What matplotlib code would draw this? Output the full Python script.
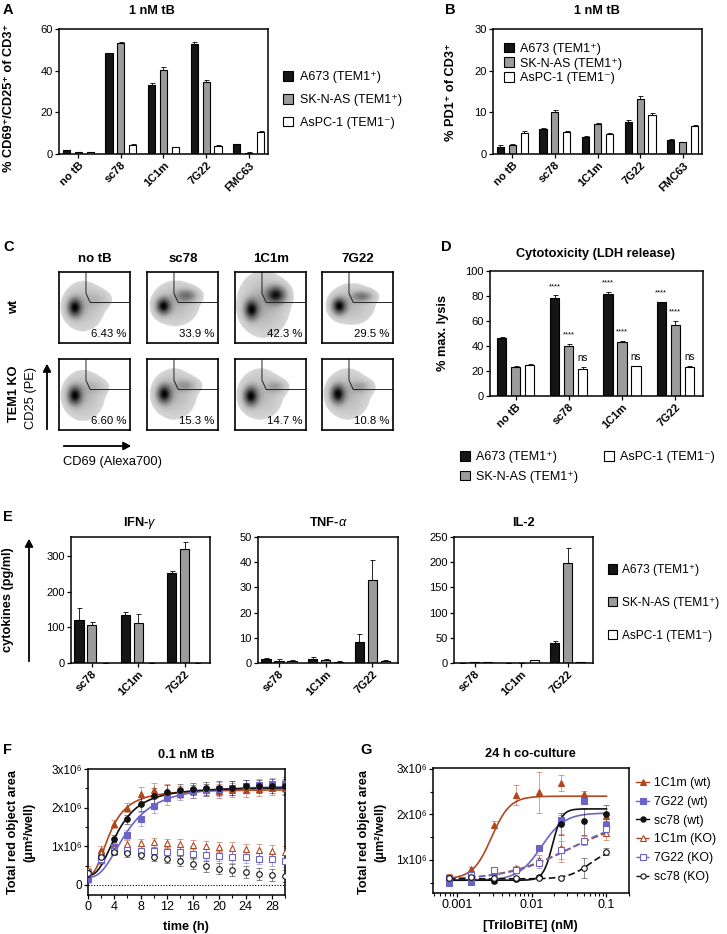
import numpy as np
import matplotlib
matplotlib.use('Agg')
import matplotlib.pyplot as plt
from matplotlib.patches import Patch, FancyArrowPatch
from matplotlib.lines import Line2D

plt.rcParams['font.family'] = ['Liberation Sans', 'DejaVu Sans']
plt.rcParams['mathtext.fontset'] = 'custom'
plt.rcParams['mathtext.rm'] = 'Liberation Sans'
plt.rcParams['mathtext.bf'] = 'Liberation Sans:bold'
plt.rcParams['mathtext.it'] = 'Liberation Sans:italic'
plt.rcParams['font.size'] = 8

# ---------------- data ----------------
lines3 = ['A673 (TEM1\u207a)', 'SK-N-AS (TEM1\u207a)', 'AsPC-1 (TEM1\u207b)']
bar_colors = ['#151515', '#9b9b9b', '#ffffff']

ab_groups = ['no tB', 'sc78', '1C1m', '7G22', 'FMC63']
a_vals = [[1.8, 48.3, 33.3, 53.0, 4.7],
          [1.0, 53.5, 40.5, 34.8, 0.7],
          [1.0, 4.3, 3.2, 4.0, 10.8]]
a_errs = [[0.3, 0.3, 0.7, 0.6, 0.2],
          [0.1, 0.3, 1.2, 0.8, 0.1],
          [0.2, 0.3, 0.2, 0.5, 0.3]]
b_vals = [[1.8, 6.1, 4.1, 7.8, 3.4],
          [2.2, 10.1, 7.3, 13.2, 2.9],
          [5.0, 5.4, 4.9, 9.3, 6.7]]
b_errs = [[0.3, 0.2, 0.2, 0.4, 0.3],
          [0.2, 0.5, 0.2, 0.7, 0.1],
          [0.5, 0.1, 0.1, 0.5, 0.2]]

c_cols = ['no tB', 'sc78', '1C1m', '7G22']
c_pct = [['6.43 %', '33.9 %', '42.3 %', '29.5 %'],
         ['6.60 %', '15.3 %', '14.7 %', '10.8 %']]
# populations (cx, cy, sx, sy, weight) for each density plot
c_pops = [
    [[(0.22, 0.5, 0.065, 0.085, 1.0), (0.34, 0.52, 0.17, 0.2, 0.2), (0.55, 0.62, 0.12, 0.08, 0.12)],
     [(0.23, 0.52, 0.065, 0.075, 1.0), (0.4, 0.56, 0.19, 0.18, 0.2), (0.56, 0.67, 0.1, 0.06, 0.45)],
     [(0.23, 0.47, 0.065, 0.09, 0.85), (0.4, 0.55, 0.2, 0.25, 0.22), (0.58, 0.68, 0.09, 0.08, 0.8)],
     [(0.24, 0.52, 0.065, 0.075, 1.0), (0.42, 0.55, 0.19, 0.17, 0.18), (0.57, 0.66, 0.1, 0.05, 0.4)]],
    [[(0.22, 0.48, 0.065, 0.085, 1.0), (0.34, 0.48, 0.17, 0.2, 0.2), (0.5, 0.6, 0.12, 0.07, 0.12)],
     [(0.24, 0.5, 0.065, 0.085, 1.0), (0.38, 0.5, 0.18, 0.2, 0.2), (0.55, 0.62, 0.11, 0.06, 0.25)],
     [(0.22, 0.47, 0.065, 0.085, 1.0), (0.36, 0.5, 0.18, 0.2, 0.2), (0.58, 0.6, 0.09, 0.06, 0.25)],
     [(0.22, 0.5, 0.065, 0.085, 1.0), (0.36, 0.5, 0.18, 0.2, 0.2), (0.55, 0.6, 0.1, 0.06, 0.22)]],
]

d_groups = ['no tB', 'sc78', '1C1m', '7G22']
d_vals = [[46.5, 78.5, 81.5, 75.0],
          [23.5, 40.0, 43.0, 57.0],
          [24.5, 22.0, 23.8, 23.0]]
d_errs = [[1.0, 2.2, 2.0, 0.5],
          [0.5, 2.0, 1.3, 3.2],
          [1.5, 1.5, 0.5, 1.0]]
d_sig = [['', '****', '****', '****'],
         ['', '****', '****', '****'],
         ['', 'ns', 'ns', 'ns']]

e_groups = ['sc78', '1C1m', '7G22']
e_titles = ['IFN-$\\gamma$', 'TNF-$\\alpha$', 'IL-2']
e_vals = [[[120, 135, 252], [107, 113, 320], [1, 1, 1]],
          [[1.5, 1.5, 8.5], [0.8, 1.3, 33.0], [0.7, 0.5, 0.8]],
          [[0.5, 0.5, 40], [2.0, 0.5, 198], [1.0, 6.0, 1.0]]]
e_errs = [[[35, 8, 6], [8, 25, 18], [0, 0, 0]],
          [[0.3, 1.0, 3.0], [0.8, 0.3, 8.0], [0.3, 0.1, 0.2]],
          [[0, 0, 4], [0.5, 0, 30], [0.3, 0.5, 0.3]]]
e_ylims = [353, 50, 250]
e_ticks = [[0, 100, 200, 300], [0, 10, 20, 30, 40, 50], [0, 50, 100, 150, 200, 250]]

RED = '#b2461f'
BLUE = '#6c63c6'
BLK = '#111111'

f_time = [0, 2, 4, 6, 8, 10, 12, 14, 16, 18, 20, 22, 24, 26, 28, 30]
f_1c1m_wt = [0.35, 0.9, 1.58, 2.0, 2.35, 2.45, 2.42, 2.4, 2.42, 2.45, 2.42, 2.45, 2.45, 2.47, 2.5, 2.52]
f_7g22_wt = [0.15, 0.65, 0.98, 1.3, 1.7, 2.05, 2.25, 2.35, 2.42, 2.45, 2.48, 2.5, 2.55, 2.58, 2.6, 2.6]
f_sc78_wt = [0.28, 0.75, 1.2, 1.7, 2.1, 2.3, 2.4, 2.45, 2.48, 2.5, 2.52, 2.52, 2.55, 2.55, 2.55, 2.55]
f_1c1m_ko = [0.38, 0.82, 0.95, 1.07, 1.08, 1.1, 1.08, 1.05, 1.03, 1.0, 0.98, 0.95, 0.92, 0.9, 0.87, 0.84]
f_7g22_ko = [0.3, 0.68, 0.88, 0.9, 0.88, 0.87, 0.86, 0.84, 0.8, 0.78, 0.75, 0.73, 0.72, 0.68, 0.66, 0.62]
f_sc78_ko = [0.3, 0.72, 0.85, 0.82, 0.78, 0.73, 0.68, 0.62, 0.55, 0.48, 0.42, 0.38, 0.33, 0.29, 0.26, 0.23]
f_err_wt = [0.1, 0.1, 0.1, 0.12, 0.18, 0.2, 0.18, 0.16, 0.16, 0.16, 0.18, 0.18, 0.17, 0.17, 0.18, 0.2]
f_err_ko = [0.1, 0.08, 0.08, 0.1, 0.12, 0.12, 0.12, 0.13, 0.14, 0.14, 0.14, 0.15, 0.15, 0.15, 0.16, 0.16]
# fitted curves (bottom, top, t50, hill), x10^6
f_fit = {'1c1m': (0.25, 2.47, 3.4, 2.4), 'sc78': (0.25, 2.53, 4.6, 2.5), '7g22': (0.2, 2.58, 6.0, 2.5)}

g_conc = [0.00078125, 0.0015625, 0.003125, 0.00625, 0.0125, 0.025, 0.05, 0.1]
g_1c1m_wt = [0.6, 0.79, 1.77, 2.42, 2.49, 2.69, 2.45, 1.96]
g_7g22_wt = [0.49, 0.52, 0.74, 0.78, 1.26, 1.88, 2.29, 1.77]
g_sc78_wt = [0.6, 0.62, 0.54, 0.57, 0.62, 1.79, 1.85, 2.01]
g_1c1m_ko = [0.62, 0.65, 0.78, 0.82, 1.0, 1.26, 1.42, 1.59]
g_7g22_ko = [0.6, 0.67, 0.78, 0.78, 0.93, 1.22, 1.42, 1.68]
g_sc78_ko = [0.6, 0.62, 0.6, 0.59, 0.61, 0.61, 0.81, 1.18]
g_err = {'1c1m_wt': [0.08, 0.05, 0.08, 0.22, 0.45, 0.17, 0.07, 0.1],
         '7g22_wt': [0.05, 0.08, 0.05, 0.06, 0.05, 0.1, 0.06, 0.08],
         'sc78_wt': [0.04, 0.06, 0.05, 0.04, 0.04, 0.25, 0.3, 0.2],
         '1c1m_ko': [0.06, 0.05, 0.05, 0.05, 0.1, 0.3, 0.1, 0.15],
         '7g22_ko': [0.05, 0.05, 0.05, 0.05, 0.1, 0.2, 0.05, 0.15],
         'sc78_ko': [0.03, 0.03, 0.03, 0.03, 0.03, 0.03, 0.22, 0.08]}
# fitted curves (bottom, top, ec50, hill), x10^6
g_fit = {'1c1m_wt': (0.58, 2.4, 0.0029, 3.5), '7g22_wt': (0.55, 2.03, 0.0135, 2.8),
         'sc78_wt': (0.55, 2.12, 0.019, 7.0), '1c1m_ko': (0.55, 1.9, 0.03, 1.0),
         '7g22_ko': (0.55, 2.0, 0.035, 1.0), 'sc78_ko': (0.58, 1.25, 0.06, 3.0)}

# ---------------- helpers ----------------
W, H = 727, 934
fig = plt.figure(figsize=(W / 100, H / 100), dpi=100)

LEG = 9.0    # legend font size
LAB = 9.2    # axis label / title size


def fx(x):
    return x / W


def fy(y):
    return 1 - y / H


def add_ax(x0, y0, x1, y1):
    return fig.add_axes([fx(x0), fy(y1), (x1 - x0) / W, (y1 - y0) / H])


def text(x, y, s, **kw):
    kw.setdefault('ha', 'center')
    kw.setdefault('va', 'center')
    return fig.text(fx(x), fy(y), s, **kw)


def arrow(p0, p1):
    fig.add_artist(FancyArrowPatch((fx(p0[0]), fy(p0[1])), (fx(p1[0]), fy(p1[1])),
                                   transform=fig.transFigure,
                                   arrowstyle='-|>,head_length=4.5,head_width=2.4',
                                   lw=1.3, color='black'))


def style(ax, size=8):
    for s in ax.spines.values():
        s.set_linewidth(1.1)
    ax.tick_params(length=3, width=0.9, labelsize=size, pad=1.5)


def bars(ax, vals, errs, width, offset):
    x = np.arange(len(vals[0]))
    for k in range(3):
        pos = x + (k - 1) * offset
        ax.bar(pos, vals[k], width, color=bar_colors[k], edgecolor='black', linewidth=0.8, zorder=2)
        ax.errorbar(pos, vals[k], yerr=[np.zeros(len(pos)), errs[k]], fmt='none', ecolor='black',
                    elinewidth=0.6, capsize=1.8, capthick=0.6, zorder=1)
    return x


def xlabels(ax, x, labels):
    ax.set_xticks(x)
    ax.set_xticklabels(labels, rotation=45, ha='right', rotation_mode='anchor',
                       fontweight='bold', fontsize=9)


def sq_handles():
    return [Patch(facecolor=c, edgecolor='black', linewidth=0.8) for c in bar_colors]


leg_kw = dict(frameon=False, handlelength=0.8, handleheight=0.8, handletextpad=0.5, fontsize=LEG)
letter_kw = dict(fontsize=10.5, fontweight='bold', ha='left', va='center')
title_kw = dict(fontsize=LAB, fontweight='bold')

# ---------------- A ----------------
ax = add_ax(59, 29, 268, 154)
x = bars(ax, a_vals, a_errs, 0.17, 0.28)
ax.set_xlim(-0.45, 4.45)
ax.set_ylim(0, 60)
ax.set_yticks([0, 20, 40, 60])
xlabels(ax, x, ab_groups)
style(ax)
text(3, 10, 'A', **letter_kw)
text(152, 11, '1 nM tB', **title_kw)
text(9, 98, '% CD69\u207a/CD25\u207a of CD3\u207a', rotation=90, fontsize=LAB, fontweight='bold')
fig.legend(sq_handles(), lines3, loc='center left', bbox_to_anchor=(fx(272), fy(100)),
           labelspacing=0.85, **leg_kw)

# ---------------- B ----------------
ax = add_ax(493, 29, 702, 154)
x = bars(ax, b_vals, b_errs, 0.17, 0.28)
ax.set_xlim(-0.45, 4.45)
ax.set_ylim(0, 30)
ax.set_yticks([0, 10, 20, 30])
xlabels(ax, x, ab_groups)
style(ax)
ax.legend(sq_handles(), lines3, loc='upper left', bbox_to_anchor=(0.0, 0.98),
          labelspacing=0.2, **leg_kw)
text(445, 10, 'B', **letter_kw)
text(597, 11, '1 nM tB', **title_kw)
text(451, 92, '% PD1\u207a of CD3\u207a', rotation=90, fontsize=LAB, fontweight='bold')

# ---------------- C ----------------
text(3, 247, 'C', **letter_kw)
col_x = [59, 147, 235, 322]
row_y = [272, 359]
gx, gy = np.meshgrid(np.linspace(0, 1, 140), np.linspace(0, 1, 140))
for r in range(2):
    for c in range(4):
        ax = add_ax(col_x[c], row_y[r], col_x[c] + 71, row_y[r] + 71)
        z = np.zeros_like(gx)
        for cx, cy, sx, sy, w in c_pops[r][c]:
            z += w * np.exp(-0.5 * (((gx - cx) / sx) ** 2 + ((gy - cy) / sy) ** 2))
        z /= z.max()
        img = np.where(z > 0.035, 0.22 + 0.78 * z ** 0.85, 0.0)
        ax.imshow(img, cmap='Greys', vmin=0, vmax=1.0, extent=(0, 1, 0, 1),
                  origin='lower', aspect='auto', interpolation='bilinear')
        ax.plot([0.38, 0.38, 0.44, 1.0], [1.0, 0.7, 0.57, 0.57], color='#222222', lw=0.7)
        ax.set_xlim(0, 1)
        ax.set_ylim(0, 1)
        ax.set_xticks([])
        ax.set_yticks([])
        for s in ax.spines.values():
            s.set_linewidth(1.2)
        ax.text(0.95, 0.12, c_pct[r][c], transform=ax.transAxes, ha='right', va='center', fontsize=8.2)
        if r == 0:
            text(col_x[c] + 36, 259, c_cols[c], fontsize=9.5, fontweight='bold')
text(14, 307, 'wt', rotation=90, fontsize=LAB, fontweight='bold')
text(14, 394, 'TEM1 KO', rotation=90, fontsize=LAB, fontweight='bold')
text(31, 398, 'CD25 (PE)', rotation=90, fontsize=9.3)
text(63, 462, 'CD69 (Alexa700)', fontsize=9.3, ha='left')
arrow((47, 432), (47, 361))
arrow((61, 446), (134, 446))

# ---------------- D ----------------
ax = add_ax(490, 271, 703, 396)
x = bars(ax, d_vals, d_errs, 0.175, 0.263)
for k in range(3):
    for i in range(4):
        s = d_sig[k][i]
        if s:
            ytop = d_vals[k][i] + d_errs[k][i]
            if s == 'ns':
                ax.text(i + (k - 1) * 0.263, ytop + 3, s, ha='center', va='bottom', fontsize=7)
            else:
                ax.text(i + (k - 1) * 0.263, ytop + 4, s, ha='center', va='bottom', fontsize=5.5)
ax.set_xlim(-0.48, 3.52)
ax.set_ylim(0, 100)
ax.set_yticks([0, 20, 40, 60, 80, 100])
xlabels(ax, x, d_groups)
style(ax)
text(441, 247, 'D', **letter_kw)
text(596, 254, 'Cytotoxicity (LDH release)', **title_kw)
text(443, 333, '% max. lysis', rotation=90, fontsize=LAB, fontweight='bold')
fig.legend(sq_handles(), lines3, loc='upper left', bbox_to_anchor=(fx(449), fy(440)), ncol=2,
           labelspacing=0.6, columnspacing=2.0, **leg_kw)

# ---------------- E ----------------
text(3, 517, 'E', **letter_kw)
e_boxes = [(71, 210), (258, 398), (454, 593)]
e_tx = [140, 328, 523]
for j in range(3):
    ax = add_ax(e_boxes[j][0], 537, e_boxes[j][1], 663)
    x = bars(ax, e_vals[j], e_errs[j], 0.2, 0.28)
    ax.set_xlim(-0.45, 2.55)
    ax.set_ylim(0, e_ylims[j])
    ax.set_yticks(e_ticks[j])
    xlabels(ax, x, e_groups)
    style(ax)
    text(e_tx[j], 523, e_titles[j], **title_kw)
text(8, 600, 'cytokines (pg/ml)', rotation=90, fontsize=LAB, fontweight='bold')
arrow((29, 664), (29, 536))
fig.legend(sq_handles(), lines3, loc='center left', bbox_to_anchor=(fx(597), fy(603)),
           labelspacing=1.75, frameon=False, handlelength=0.8, handleheight=0.8,
           handletextpad=0.4, fontsize=8.6)


def pl4(x, p):
    b, t, c, h = p
    return b + (t - b) / (1 + (c / x) ** h)


# ---------------- F ----------------
ax = add_ax(88, 769, 285, 895)
t = np.array(f_time, dtype=float)
tt = np.linspace(0.01, 30, 300)
ax.axhline(0, color='black', lw=0.8, ls=(0, (1, 1.5)))
series_f = [(f_1c1m_wt, f_err_wt, RED, '^', True, '1c1m'),
            (f_7g22_wt, f_err_wt, BLUE, 's', True, '7g22'),
            (f_sc78_wt, f_err_wt, BLK, 'o', True, 'sc78'),
            (f_1c1m_ko, f_err_ko, RED, '^', False, None),
            (f_7g22_ko, f_err_ko, BLUE, 's', False, None),
            (f_sc78_ko, f_err_ko, BLK, 'o', False, None)]
for vals, err, col, mk, filled, key in series_f:
    v = np.array(vals) * 1e6
    e = np.array(err) * 1e6
    ax.errorbar(t, v, yerr=e, fmt='none', ecolor=col, alpha=0.5, elinewidth=0.7, capsize=2, capthick=0.7)
    ax.plot(t, v, ls='none', marker=mk, ms=4 if mk != 's' else 3.7, mfc=col if filled else 'white',
            mec=col, mew=0.8, zorder=3)
    if key:
        ax.plot(tt, pl4(tt, f_fit[key]) * 1e6, color=col, lw=1.2, zorder=2)
ax.set_xlim(0, 30)
ax.set_ylim(-0.26e6, 3e6)
ax.set_xticks(range(0, 29, 4))
ax.set_xticks(range(0, 31, 2), minor=True)
ax.set_yticks([0, 1e6, 2e6, 3e6])
ax.set_yticklabels(['0', '1x10\u2076', '2x10\u2076', '3x10\u2076'])
ax.set_yticks([0.5e6, 1.5e6, 2.5e6], minor=True)
style(ax, 8.5)
ax.tick_params(which='minor', length=2, width=0.8)
ax.tick_params(axis='x', labelsize=9)
text(3, 750, 'F', **letter_kw)
text(186, 755, '0.1 nM tB', **title_kw)
text(186, 927, 'time (h)', fontsize=LAB, fontweight='bold')
text(21, 832, 'Total red object area\n(\u03bcm\u00b2/well)', rotation=90, fontsize=LAB,
     fontweight='bold', linespacing=1.45)

# ---------------- G ----------------
ax = add_ax(433, 768, 629, 893)
cc = np.array(g_conc)
cx = np.logspace(np.log10(g_conc[0]), np.log10(g_conc[-1]), 300)
series_g = [(g_1c1m_wt, '1c1m_wt', RED, '^', True, '1C1m (wt)'),
            (g_7g22_wt, '7g22_wt', BLUE, 's', True, '7G22 (wt)'),
            (g_sc78_wt, 'sc78_wt', BLK, 'o', True, 'sc78 (wt)'),
            (g_1c1m_ko, '1c1m_ko', RED, '^', False, '1C1m (KO)'),
            (g_7g22_ko, '7g22_ko', BLUE, 's', False, '7G22 (KO)'),
            (g_sc78_ko, 'sc78_ko', BLK, 'o', False, 'sc78 (KO)')]
handles = []
for vals, key, col, mk, filled, lab in series_g:
    v = np.array(vals) * 1e6
    e = np.array(g_err[key]) * 1e6
    ls = '-' if filled else (0, (4, 2))
    ax.errorbar(cc, v, yerr=e, fmt='none', ecolor=col, alpha=0.5, elinewidth=0.7, capsize=2, capthick=0.7)
    ax.plot(cx, pl4(cx, g_fit[key]) * 1e6, color=col, lw=1.2, ls=ls, zorder=2)
    ax.plot(cc, v, ls='none', marker=mk, ms=4 if mk != 's' else 3.7, mfc=col if filled else 'white',
            mec=col, mew=0.8, zorder=3)
    handles.append(Line2D([], [], color=col, lw=1.0, ls=ls, marker=mk, ms=3.8,
                          mfc=col if filled else 'white', mec=col, mew=0.8))
ax.set_xscale('log')
ax.set_xlim(0.00048, 0.2)
ax.set_ylim(0.27e6, 3.02e6)
ax.set_xticks([0.001, 0.01, 0.1])
ax.set_xticklabels(['0.001', '0.01', '0.1'])
ax.set_yticks([1e6, 2e6, 3e6])
ax.set_yticklabels(['1x10\u2076', '2x10\u2076', '3x10\u2076'])
ax.set_yticks([0.5e6, 1.5e6, 2.5e6], minor=True)
style(ax, 8.5)
ax.tick_params(which='minor', length=2, width=0.8)
ax.tick_params(axis='x', labelsize=9)
text(360, 750, 'G', **letter_kw)
text(530, 754, '24 h co-culture', **title_kw)
text(530, 926, '[TriloBiTE] (nM)', fontsize=LAB, fontweight='bold')
text(372, 832, 'Total red object area\n(\u03bcm\u00b2/well)', rotation=90, fontsize=LAB,
     fontweight='bold', linespacing=1.45)
fig.legend(handles, [s[5] for s in series_g], loc='center left', bbox_to_anchor=(fx(625), fy(830)),
           frameon=False, handlelength=1.1, handletextpad=0.4, labelspacing=0.55, fontsize=8.8)

fig.savefig('out.png', dpi=100)
